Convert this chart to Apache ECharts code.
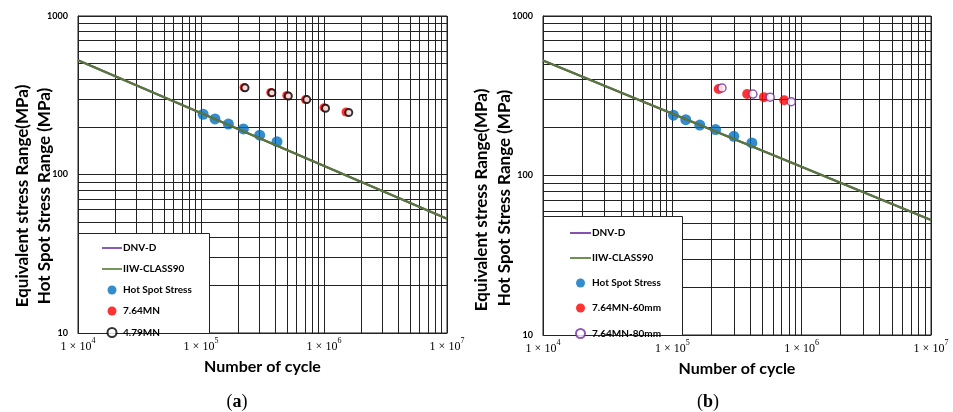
<!DOCTYPE html>
<html>
<head>
<meta charset="utf-8">
<script src="https://cdn.jsdelivr.net/npm/echarts@6/dist/echarts.min.js"></script>
<style>
  html, body { margin: 0; background: #fff; }
  #chart { width: 953px; height: 412px; }
</style>
</head>
<body>
<div id="chart"></div>
<script>
// S-N design curves (two end points, log-log straight lines)
const curveN = [1e4, 1e7]
const dnvD = [526, 52.6]
const iiwClass90 = [526, 52.6]

// (a) test results
const hotSpotNa = [1.04e5, 1.30e5, 1.67e5, 2.21e5, 3.0e5, 4.15e5]
const hotSpotSa = [240, 224, 208, 194, 177, 161]
const mn764N = [2.24e5, 3.69e5, 4.98e5, 7.06e5, 1.0e6, 1.51e6]
const mn764S = [354, 329, 315, 297, 264, 248]
const mn479N = [2.28e5, 3.77e5, 5.13e5, 7.25e5, 1.03e6, 1.59e6]
const mn479S = [352, 328, 313, 297, 262, 246]

// (b) test results
const hotSpotNb = [1.02e5, 1.27e5, 1.63e5, 2.16e5, 2.99e5, 4.12e5]
const hotSpotSb = [239, 224, 207, 194, 176, 160]
const mn60N = [2.28e5, 3.79e5, 5.11e5, 7.33e5]
const mn60S = [349, 324, 310, 296]
const mn80N = [2.42e5, 4.20e5, 5.71e5, 8.31e5]
const mn80S = [354, 324, 310, 290]

// minor grid lines (2..9 x decade)
const minorMult = [2, 3, 4, 5, 6, 7, 8, 9]
const xDecades = [1e4, 1e5, 1e6]
const yDecades = [10, 100]

const pairs = (xs, ys) => xs.map((x, i) => [x, ys[i]])

const C_DNV = '#7030A0'
const C_IIW = '#557A35'
const C_BLUE = '#0070C0'
const C_RED = '#FF0000'
const GRIDC = '#222'
const LINE_ICON = 'path://M0,0 H20 V1.6 H0 Z'

function minorLines() {
  let d = []
  xDecades.forEach(dec => minorMult.forEach(m => d.push({ xAxis: m * dec })))
  yDecades.forEach(dec => minorMult.forEach(m => d.push({ yAxis: m * dec })))
  return d
}

function xAxisOf(gi) {
  return {
    type: 'log', logBase: 10, gridIndex: gi, min: 1e4, max: 1e7,
    axisLine: { show: true, lineStyle: { color: GRIDC, width: 1 } },
    axisTick: { show: false },
    splitLine: { show: true, lineStyle: { color: GRIDC, width: 1 } },
    axisLabel: {
      margin: 4,
      formatter: v => '{b|1 × 10}{s|' + Math.round(Math.log10(v)) + '}',
      rich: {
        b: { fontFamily: 'Liberation Serif', fontSize: 12, color: '#000', lineHeight: 16, verticalAlign: 'bottom' },
        s: { fontFamily: 'Liberation Serif', fontSize: 8, color: '#000', verticalAlign: 'top' }
      }
    },
    name: 'Number of cycle', nameLocation: 'middle', nameGap: 26,
    nameTextStyle: { fontFamily: 'Lato', fontWeight: 'bold', fontSize: 16, color: '#000' }
  }
}

function yAxisOf(gi) {
  return {
    type: 'log', logBase: 10, gridIndex: gi, min: 10, max: 1000,
    axisLine: { show: true, lineStyle: { color: GRIDC, width: 1 } },
    axisTick: { show: false },
    splitLine: { show: true, lineStyle: { color: GRIDC, width: 1 } },
    axisLabel: { margin: 10, fontFamily: 'Lato', fontWeight: 'bold', fontSize: 9, color: '#000',
      formatter: v => String(Math.round(v)) }
  }
}

function curves(gi) {
  return [
    {
      name: 'DNV-D', type: 'line', xAxisIndex: gi, yAxisIndex: gi,
      data: pairs(curveN, dnvD), symbol: 'none',
      lineStyle: { color: C_DNV, width: 2 }, itemStyle: { color: C_DNV },
      markLine: {
        silent: true, symbol: 'none', z: 1, animation: false,
        label: { show: false },
        lineStyle: { color: GRIDC, width: 1, type: 'solid' },
        data: minorLines()
      }
    },
    {
      name: 'IIW-CLASS90', type: 'line', xAxisIndex: gi, yAxisIndex: gi,
      data: pairs(curveN, iiwClass90), symbol: 'none',
      lineStyle: { color: C_IIW, width: 2 }, itemStyle: { color: C_IIW }
    }
  ]
}

const series = [
  ...curves(0),
  { name: 'Hot Spot Stress', type: 'scatter', xAxisIndex: 0, yAxisIndex: 0, symbolSize: 11,
    data: pairs(hotSpotNa, hotSpotSa), itemStyle: { color: C_BLUE } },
  { name: '7.64MN', type: 'scatter', xAxisIndex: 0, yAxisIndex: 0, symbolSize: 9,
    data: pairs(mn764N, mn764S), itemStyle: { color: C_RED } },
  { name: '4.79MN', type: 'scatter', xAxisIndex: 0, yAxisIndex: 0, symbolSize: 7, z: 3,
    data: pairs(mn479N, mn479S), itemStyle: { color: '#fff', borderColor: '#000', borderWidth: 2 } },
  ...curves(1),
  { name: 'Hot Spot Stress', type: 'scatter', xAxisIndex: 1, yAxisIndex: 1, symbolSize: 11,
    data: pairs(hotSpotNb, hotSpotSb), itemStyle: { color: C_BLUE } },
  { name: '7.64MN-60mm', type: 'scatter', xAxisIndex: 1, yAxisIndex: 1, symbolSize: 10,
    data: pairs(mn60N, mn60S), itemStyle: { color: C_RED } },
  { name: '7.64MN-80mm', type: 'scatter', xAxisIndex: 1, yAxisIndex: 1, symbolSize: 8, z: 3,
    data: pairs(mn80N, mn80S), itemStyle: { color: '#fff', borderColor: C_DNV, borderWidth: 1.5 } }
]

const legendText = { fontFamily: 'Lato', fontWeight: 'bold', fontSize: 10, color: '#000', padding: [0, 0, 0, -4] }

const yTitle = (x, y, txt) => ({
  type: 'text', x: x, y: y, rotation: Math.PI / 2, z: 30,
  style: { text: txt, font: 'bold 17px Lato', fill: '#000', textAlign: 'center', textVerticalAlign: 'middle' }
})
const panelTag = (x, y, ch) => ({
  type: 'text', x: x, y: y, z: 30,
  style: {
    text: '({t|' + ch + '})', fontFamily: 'Liberation Serif', fontSize: 18, fill: '#000',
    textAlign: 'center', textVerticalAlign: 'middle',
    rich: { t: { fontFamily: 'Liberation Serif', fontSize: 18, fontWeight: 'bold', color: '#000' } }
  }
})

const myChart = echarts.init(document.getElementById('chart'))
const option = {
  animation: false,
  backgroundColor: '#fff',
  grid: [
    { left: 78, top: 16, width: 369, height: 317, show: true, borderColor: GRIDC, borderWidth: 1 },
    { left: 543, top: 16, width: 388, height: 319, show: true, borderColor: GRIDC, borderWidth: 1 }
  ],
  xAxis: [xAxisOf(0), xAxisOf(1)],
  yAxis: [yAxisOf(0), yAxisOf(1)],
  legend: [
    { orient: 'vertical', left: 97, top: 238, itemWidth: 20, itemHeight: 9, itemGap: 11, z: 20,
      selectedMode: false, textStyle: legendText,
      data: [{ name: 'DNV-D', icon: LINE_ICON }, { name: 'IIW-CLASS90', icon: LINE_ICON },
        'Hot Spot Stress', '7.64MN', '4.79MN'] },
    { orient: 'vertical', left: 565, top: 223, itemWidth: 21, itemHeight: 9, itemGap: 15, z: 20,
      selectedMode: false, textStyle: legendText,
      data: [{ name: 'DNV-D', icon: LINE_ICON }, { name: 'IIW-CLASS90', icon: LINE_ICON },
        'Hot Spot Stress', '7.64MN-60mm', '7.64MN-80mm'] }
  ],
  graphic: [
    { type: 'rect', z: 15, shape: { x: 78.5, y: 233.5, width: 131, height: 100 },
      style: { fill: '#fff', stroke: GRIDC, lineWidth: 1 } },
    { type: 'rect', z: 15, shape: { x: 543.5, y: 216.5, width: 139, height: 119 },
      style: { fill: '#fff', stroke: GRIDC, lineWidth: 1 } },
    yTitle(23, 196, 'Equivalent stress Range(MPa)'),
    yTitle(45, 196, 'Hot Spot Stress Range (MPa)'),
    yTitle(482, 200, 'Equivalent stress Range(MPa)'),
    yTitle(505, 198, 'Hot Spot Stress Range (MPa)'),
    panelTag(237, 402, 'a'),
    panelTag(708, 402, 'b')
  ],
  series: series
}
myChart.setOption(option)
</script>
</body>
</html>
